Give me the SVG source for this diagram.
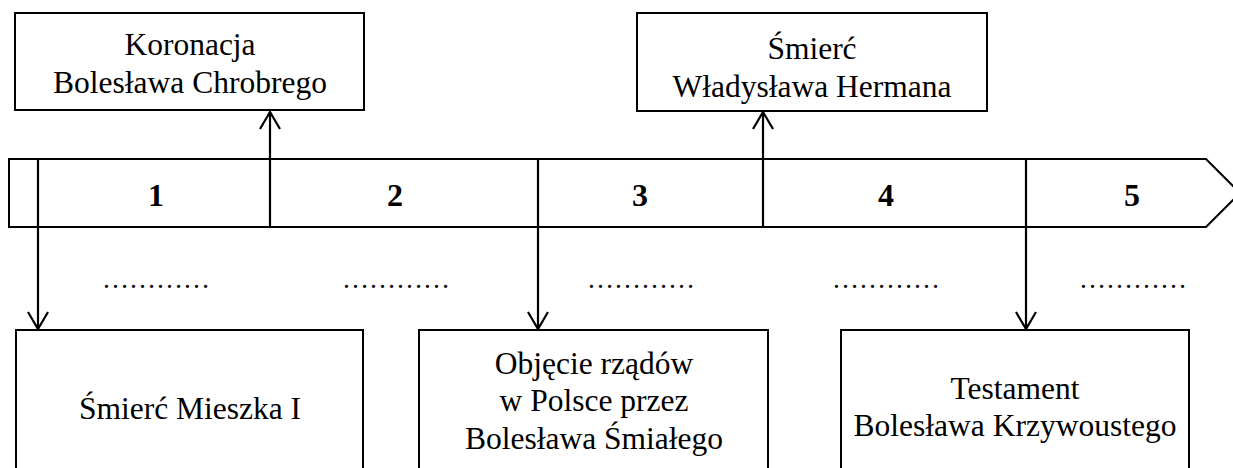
<svg xmlns="http://www.w3.org/2000/svg" width="1233" height="468" viewBox="0 0 1233 468">
<style>
.box{fill:#fff;stroke:#000;stroke-width:2}
.ln{fill:none;stroke:#000;stroke-width:2.2}
.t{font-family:"Liberation Serif","Times New Roman",serif;font-size:31.5px;fill:#000;text-anchor:middle}
.n{font-family:"Liberation Serif","Times New Roman",serif;font-size:32px;font-weight:bold;fill:#000;text-anchor:middle}
.d{font-family:"Liberation Serif","Times New Roman",serif;font-size:27px;fill:#000;text-anchor:middle}
</style>
<defs>
<marker id="v" viewBox="0 0 20 22" refX="18" refY="11" markerWidth="20" markerHeight="22" markerUnits="userSpaceOnUse" orient="auto">
<path d="M1,1 L18,11 L1,21" fill="none" stroke="#000" stroke-width="2.2"/>
</marker>
</defs>
<g id="timeline">
<polygon class="box" points="9,159 1206,159 1240,193 1206,227 9,227"/>
<text class="n" x="156" y="206">1</text>
<text class="n" x="395" y="206">2</text>
<text class="n" x="640" y="206">3</text>
<text class="n" x="886" y="206">4</text>
<text class="n" x="1132" y="206">5</text>
</g>
<g id="blanks">
<text class="d" x="156" y="288">…………</text>
<text class="d" x="396" y="288">…………</text>
<text class="d" x="641" y="288">…………</text>
<text class="d" x="886" y="288">…………</text>
<text class="d" x="1133" y="288">…………</text>
</g>
<g id="connectors">
<line class="ln" x1="270" y1="226" x2="270" y2="112" marker-end="url(#v)"/>
<line class="ln" x1="763" y1="227" x2="763" y2="112" marker-end="url(#v)"/>
<line class="ln" x1="38" y1="159" x2="38" y2="329" marker-end="url(#v)"/>
<line class="ln" x1="538" y1="159" x2="538" y2="329" marker-end="url(#v)"/>
<line class="ln" x1="1026" y1="159" x2="1026" y2="329" marker-end="url(#v)"/>
</g>
<g id="n-koronacja">
<rect class="box" x="15" y="13" width="349" height="97"/>
<text class="t" x="190" y="55">Koronacja</text>
<text class="t" x="190" y="93">Bolesława Chrobrego</text>
</g>
<g id="n-wladyslaw">
<rect class="box" x="637" y="13" width="350" height="98"/>
<text class="t" x="812" y="59">Śmierć</text>
<text class="t" x="812" y="97">Władysława Hermana</text>
</g>
<g id="n-mieszko">
<rect class="box" x="16" y="330" width="347" height="150"/>
<text class="t" x="190" y="419">Śmierć Mieszka I</text>
</g>
<g id="n-smialy">
<rect class="box" x="419" y="330" width="349" height="150"/>
<text class="t" x="594" y="374">Objęcie rządów</text>
<text class="t" x="594" y="411">w Polsce przez</text>
<text class="t" x="594" y="449">Bolesława Śmiałego</text>
</g>
<g id="n-testament">
<rect class="box" x="841" y="330" width="348" height="150"/>
<text class="t" x="1015" y="399">Testament</text>
<text class="t" x="1015" y="436">Bolesława Krzywoustego</text>
</g>
</svg>
